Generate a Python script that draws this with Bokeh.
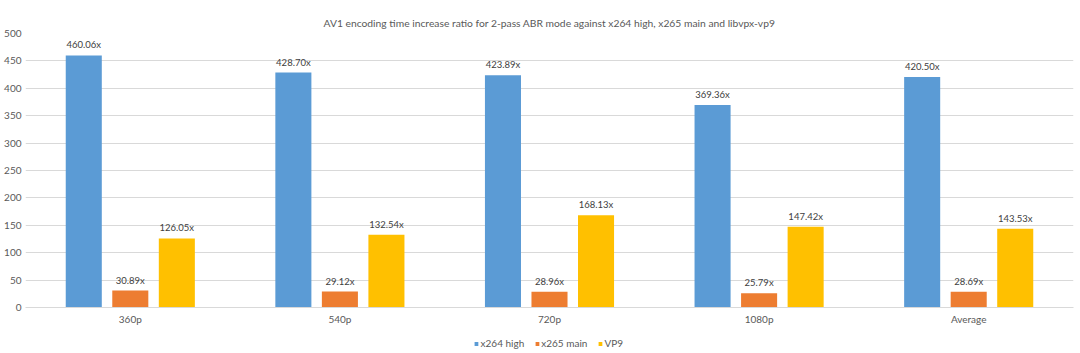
from bokeh.plotting import figure
from bokeh.layouts import column
from bokeh.models import ColumnDataSource, Range1d, FactorRange, SingleIntervalTicker
from bokeh.transform import dodge
from bokeh.core.properties import value
from bokeh.embed import file_html
from bokeh.resources import INLINE

categories = ["360p", "540p", "720p", "1080p", "Average"]
x264_high = [460.06, 428.70, 423.89, 369.36, 420.50]
x265_main = [30.89, 29.12, 28.96, 25.79, 28.69]
vp9 = [126.05, 132.54, 168.13, 147.42, 143.53]
series_names = ["x264 high", "x265 main", "VP9"]
colors = ["#5B9BD5", "#ED7D31", "#FFC000"]

FONT = "Lato"
src = ColumnDataSource(dict(
    cat=categories,
    a=x264_high, b=x265_main, c=vp9,
    la=["%.2fx" % v for v in x264_high],
    lb=["%.2fx" % v for v in x265_main],
    lc=["%.2fx" % v for v in vp9],
))

main = figure(width=1080, height=333, x_range=FactorRange(*categories), y_range=Range1d(0, 500),
              output_backend="svg", toolbar_location=None,
              min_border_left=25, min_border_right=7, min_border_top=33, min_border_bottom=26)
main.outline_line_color = None

main.title.text = "AV1 encoding time increase ratio for 2-pass ABR mode against x264 high, x265 main and libvpx-vp9"
main.title.align = "center"
main.title.text_font = FONT
main.title.text_font_size = "10.3px"
main.title.text_font_style = "normal"
main.title.text_color = "#595959"

offs = [-0.222, 0.0, 0.222]
cols = ["a", "b", "c"]
lcols = ["la", "lb", "lc"]
for off, col, lc, color in zip(offs, cols, lcols, colors):
    main.vbar(x=dodge("cat", off, range=main.x_range), top=col, width=0.172, source=src,
              fill_color=color, line_color=None)
    main.text(x=dodge("cat", off, range=main.x_range), y=col, text=lc, source=src,
              text_align="center", text_baseline="bottom", y_offset=-5,
              text_font=value(FONT), text_font_size="9.5px", text_color="#404040")

main.yaxis.ticker = SingleIntervalTicker(interval=50)
main.yaxis.axis_line_color = None
main.yaxis.major_tick_line_color = None
main.yaxis.major_tick_out = 0
main.yaxis.major_tick_in = 0
main.yaxis.minor_tick_line_color = None
main.yaxis.major_label_text_font = FONT
main.yaxis.major_label_text_font_size = "10px"
main.yaxis.major_label_text_color = "#595959"
main.yaxis.major_label_standoff = 0

main.xaxis.axis_line_color = "#d9d9d9"
main.xaxis.major_tick_line_color = None
main.xaxis.major_tick_out = 0
main.xaxis.major_tick_in = 0
main.xaxis.minor_tick_line_color = None
main.xaxis.major_label_text_font = FONT
main.xaxis.major_label_text_font_size = "10px"
main.xaxis.major_label_text_color = "#595959"
main.xaxis.major_label_standoff = 5

main.xgrid.grid_line_color = None
main.ygrid.grid_line_color = "#d9d9d9"
main.ygrid.ticker = SingleIntervalTicker(interval=50)

# legend strip: proxy glyphs lie outside its visible range, only the legend shows
leg = figure(width=1080, height=20, x_range=Range1d(0, 1), y_range=Range1d(0, 1),
             output_backend="svg", toolbar_location=None, min_border=0)
leg.axis.visible = False
leg.grid.grid_line_color = None
leg.outline_line_color = None
for name, color in zip(series_names, colors):
    leg.vbar(x=[-5], top=[-5], bottom=[-6], width=0.1, fill_color=color, line_color=None,
             legend_label=name)
leg.legend.location = "center"
leg.legend.orientation = "horizontal"
leg.legend.label_text_font = FONT
leg.legend.label_text_font_size = "10px"
leg.legend.label_text_color = "#595959"
leg.legend.glyph_width = 5
leg.legend.glyph_height = 5
leg.legend.label_standoff = 2
leg.legend.spacing = 10
leg.legend.padding = 0
leg.legend.margin = 0
leg.legend.label_height = 12
leg.legend.border_line_color = None
leg.legend.background_fill_alpha = 0

p = column(main, leg, spacing=0)
open("out.html", "w").write(file_html(p, INLINE))
